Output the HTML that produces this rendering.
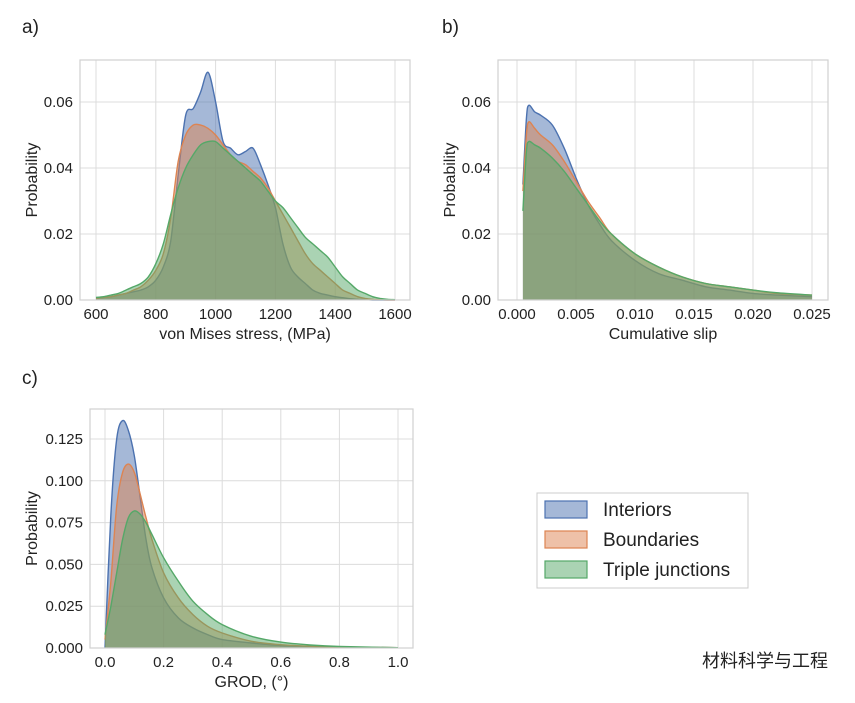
<!DOCTYPE html>
<html><head><meta charset="utf-8"><style>
body{margin:0;background:#fff;width:855px;height:698px;overflow:hidden;font-family:"Liberation Sans",sans-serif}
svg text{font-family:"Liberation Sans","Noto Sans CJK SC",sans-serif;fill:#222}
</style></head><body>
<svg id="s" width="855" height="698"></svg>
<script>
// Panel a data
const aX=[600,625,650,675,700,725,750,775,800,825,850,875,900,925,950,975,1000,1025,1050,1075,1100,1125,1150,1175,1200,1225,1250,1275,1300,1325,1350,1375,1400,1425,1450,1475,1500,1525,1550,1575,1600];
const aInteriors=[.0005,.0008,.001,.0015,.002,.0025,.003,.004,.006,.01,.018,.038,.056,.058,.063,.069,.060,.048,.046,.044,.045,.046,.041,.035,.028,.017,.01,.007,.005,.003,.002,.0015,.001,.0007,.0004,.0002,.0001,0,0,0,0];
const aBoundaries=[.0005,.0008,.001,.0015,.002,.003,.004,.006,.009,.014,.025,.042,.050,.053,.053,.052,.050,.047,.044,.042,.041,.039,.037,.034,.030,.026,.022,.018,.014,.011,.009,.007,.005,.003,.002,.001,.0005,.0002,.0001,0,0];
const aTriple=[.0008,.001,.0015,.002,.003,.004,.005,.007,.011,.017,.026,.034,.040,.044,.047,.048,.048,.046,.044,.042,.040,.038,.036,.033,.030,.028,.025,.022,.019,.017,.015,.013,.010,.007,.005,.003,.002,.001,.0005,.0002,.0001];
const aXTicks=[600,800,1000,1200,1400,1600];
const aYTicks=[0,0.02,0.04,0.06];
// Panel b data
const bX=[0.0005,0.0008,0.001,0.0015,0.002,0.003,0.004,0.005,0.006,0.007,0.008,0.01,0.012,0.014,0.016,0.018,0.02,0.022,0.025];
const bInteriors=[.035,.055,.059,.057,.056,.053,.046,.037,.029,.023,.018,.012,.008,.006,.004,.003,.002,.0015,.001];
const bBoundaries=[.033,.050,.054,.052,.050,.047,.042,.036,.030,.025,.020,.014,.010,.007,.005,.004,.003,.002,.0015];
const bTriple=[.027,.045,.048,.047,.046,.043,.039,.034,.029,.024,.020,.014,.010,.007,.005,.004,.003,.0022,.0015];
const bXTicks=[0,0.005,0.01,0.015,0.02,0.025];
const bXLabels=["0.000","0.005","0.010","0.015","0.020","0.025"];
const bYTicks=[0,0.02,0.04,0.06];
// Panel c data
const cX=[0,0.02,0.04,0.06,0.08,0.1,0.12,0.14,0.16,0.2,0.25,0.3,0.35,0.4,0.5,0.6,0.7,0.8,1.0];
const cInteriors=[0,.08,.125,.136,.130,.115,.090,.065,.048,.030,.018,.012,.008,.005,.003,.0015,.001,.0005,.0002];
const cBoundaries=[.005,.04,.085,.105,.110,.105,.092,.078,.065,.045,.030,.020,.013,.009,.004,.002,.001,.0006,.0002];
const cTriple=[.008,.025,.045,.065,.078,.082,.080,.075,.068,.054,.040,.028,.020,.014,.007,.0035,.0018,.0009,.0002];
const cXTicks=[0,0.2,0.4,0.6,0.8,1.0];
const cYTicks=[0,0.025,0.05,0.075,0.1,0.125];

const NS="http://www.w3.org/2000/svg";
const svg=document.getElementById('s');
function el(t,a,p){const e=document.createElementNS(NS,t);for(const k in a)e.setAttribute(k,a[k]);(p||svg).appendChild(e);return e;}
const COLORS=["#4c72b0","#dd8452","#55a868"];
const NAMES=["interiors","boundaries","triple-junctions"];

function smooth(P){
  let d='M'+P[0][0].toFixed(1)+','+P[0][1].toFixed(1);
  for(let i=0;i<P.length-1;i++){
    const p0=P[Math.max(0,i-1)],p1=P[i],p2=P[i+1],p3=P[Math.min(P.length-1,i+2)];
    const t=0.16;
    const c1=[p1[0]+(p2[0]-p0[0])*t,p1[1]+(p2[1]-p0[1])*t];
    const c2=[p2[0]-(p3[0]-p1[0])*t,p2[1]-(p3[1]-p1[1])*t];
    d+=' C'+c1[0].toFixed(1)+','+c1[1].toFixed(1)+' '+c2[0].toFixed(1)+','+c2[1].toFixed(1)+' '+p2[0].toFixed(1)+','+p2[1].toFixed(1);
  }
  return d;
}

function panel(o){
  const g=el('g',{});
  
  
  const sx=v=>o.x0+(v-o.d0)/(o.d1-o.d0)*(o.x1-o.x0);
  const sy=v=>o.y0-(v-o.r0)/(o.r1-o.r0)*(o.y0-o.y1);
  o.xt.forEach((t,i)=>{
    const x=sx(t);
    const l=el('line',{x1:x,x2:x,y1:o.top,y2:o.bot,stroke:'#dcdcdc','stroke-width':1},g);
    
    const tx=el('text',{x:x,y:o.bot+19,'text-anchor':'middle','font-size':15},g);
    tx.textContent=o.xl?o.xl[i]:(o.xf?t.toFixed(o.xf):t);
    
  });
  o.yt.forEach(t=>{
    const y=sy(t);
    const l=el('line',{x1:o.left,x2:o.right,y1:y,y2:y,stroke:'#dcdcdc','stroke-width':1},g);
    
    const tx=el('text',{x:o.left-7,y:y+5,'text-anchor':'end','font-size':15},g);
    tx.textContent=t.toFixed(o.yf);
    
  });
  o.series.forEach((s,k)=>{
    const P=o.xs.map((v,i)=>[sx(v),sy(s[i])]);
    const d=smooth(P);
    const base=sy(0);
    const area=el('path',{d:d+' L'+P[P.length-1][0].toFixed(1)+','+base+' L'+P[0][0].toFixed(1)+','+base+' Z',fill:COLORS[k],'fill-opacity':0.5},g);
    
    const ln=el('path',{d:d,fill:'none',stroke:COLORS[k],'stroke-width':1.4,'stroke-linejoin':'round'},g);
    
  });
  const fr=el('rect',{x:o.left,y:o.top,width:o.right-o.left,height:o.bot-o.top,fill:'none',stroke:'#d0d0d0','stroke-width':1.2},g);
  
  const xt=el('text',{x:(o.left+o.right)/2,y:o.bot+39,'text-anchor':'middle','font-size':16},g);
  xt.textContent=o.xlabel;
  const yt=el('text',{x:0,y:0,'text-anchor':'middle','font-size':16,transform:`translate(${o.ylx},${(o.top+o.bot)/2}) rotate(-90)`},g);
  yt.textContent='Probability';
  const pl=el('text',{x:o.plx,y:o.ply,'font-size':19},g);
  pl.textContent=o.letter;
}
panel({name:'panel-a',left:80,right:410,top:60,bot:300,x0:96,x1:395,d0:600,d1:1600,y0:300,y1:102,r0:0,r1:0.06,xt:aXTicks,yt:aYTicks,yf:2,xs:aX,series:[aInteriors,aBoundaries,aTriple],xlabel:'von Mises stress, (MPa)',ylx:37,plx:22,ply:33,letter:'a)'});
panel({name:'panel-b',left:498,right:828,top:60,bot:300,x0:517,x1:812,d0:0,d1:0.025,y0:300,y1:102,r0:0,r1:0.06,xt:bXTicks,xl:bXLabels,yt:bYTicks,yf:2,xs:bX,series:[bInteriors,bBoundaries,bTriple],xlabel:'Cumulative slip',ylx:455,plx:442,ply:33,letter:'b)'});
panel({name:'panel-c',left:90,right:413,top:409,bot:648,x0:105,x1:398,d0:0,d1:1,y0:648,y1:439,r0:0,r1:0.125,xt:cXTicks,xf:1,yt:cYTicks,yf:3,xs:cX,series:[cInteriors,cBoundaries,cTriple],xlabel:'GROD, (°)',ylx:37,plx:22,ply:384,letter:'c)'});

// legend
const lg=el('g',{});


el('rect',{x:537,y:493,width:211,height:95,fill:'#fff',stroke:'#ccc','stroke-width':1},lg);
["Interiors","Boundaries","Triple junctions"].forEach((n,k)=>{
  const y=501+k*30;
  const r=el('rect',{x:545,y:y,width:42,height:17,fill:COLORS[k],'fill-opacity':0.5,stroke:COLORS[k],'stroke-width':1.2},lg);
  
  const t=el('text',{x:603,y:y+15,'font-size':19},lg);
  t.textContent=n;
});
const wm=el('text',{x:828,y:667,'text-anchor':'end','font-size':18,fill:'#333'});
wm.textContent='材料科学与工程';


</script>
</body></html>
